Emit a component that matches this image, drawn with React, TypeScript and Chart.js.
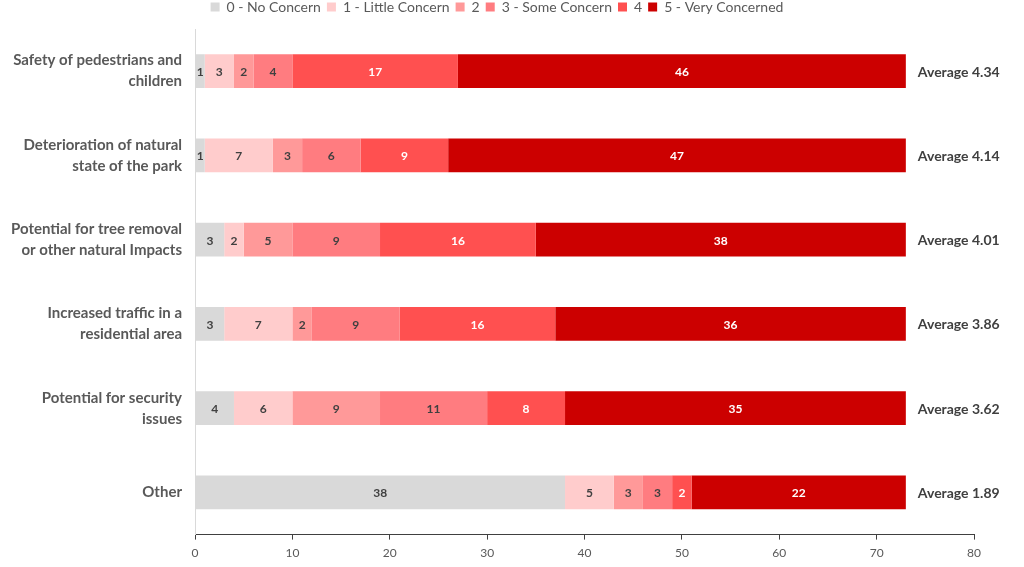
import React, { useEffect, useRef } from "react";
import { Chart, registerables } from "chart.js";

Chart.register(...registerables);

const categories: string[][] = [
  ["Safety of pedestrians and", "children"],
  ["Deterioration of natural", "state of the park"],
  ["Potential for tree removal", "or other natural Impacts"],
  ["Increased traffic in a", "residential area"],
  ["Potential for security", "issues"],
  ["Other"],
];

const seriesNames = [
  "0 - No Concern",
  "1 - Little Concern",
  "2",
  "3 - Some Concern",
  "4",
  "5 - Very Concerned",
];

const noConcern = [1, 1, 3, 3, 4, 38];
const littleConcern = [3, 7, 2, 7, 6, 5];
const two = [2, 3, 5, 2, 9, 3];
const someConcern = [4, 6, 9, 9, 11, 3];
const four = [17, 9, 16, 16, 8, 2];
const veryConcerned = [46, 47, 38, 36, 35, 22];

const averages = ["4.34", "4.14", "4.01", "3.86", "3.62", "1.89"];

const seriesColors = ["#d9d9d9", "#ffcccc", "#ff9999", "#ff7c80", "#ff5050", "#cc0000"];
const labelColors = ["#404040", "#404040", "#404040", "#404040", "#ffffff", "#ffffff"];

const FONT = "Lato, 'Open Sans', sans-serif";

const legendGap = {
  id: "legendGap",
  beforeLayout(chart: any) {
    const lg = chart.legend;
    if (lg && !lg._gapPatched) {
      const f = lg.fit.bind(lg);
      lg.fit = function () {
        f();
        this.height += 5;
      };
      lg._gapPatched = true;
    }
  },
  afterLayout(chart: any) {
    const lg = chart.legend;
    if (lg) {
      lg.left += 10;
      lg.right += 10;
    }
  },
};

const valueLabels = {
  id: "valueLabels",
  afterDatasetsDraw(chart: any) {
    const ctx = chart.ctx;
    ctx.save();
    ctx.textAlign = "center";
    ctx.textBaseline = "middle";
    ctx.font = `bold 12px ${FONT}`;
    chart.data.datasets.forEach((ds: any, di: number) => {
      const meta = chart.getDatasetMeta(di);
      meta.data.forEach((el: any, i: number) => {
        const v = ds.data[i];
        if (!v) return;
        const p = el.getProps(["x", "y", "base"], true);
        ctx.fillStyle = labelColors[di];
        ctx.fillText(String(v), (p.x + p.base) / 2, p.y + 1);
      });
    });
    const last = chart.getDatasetMeta(chart.data.datasets.length - 1);
    ctx.textAlign = "left";
    ctx.font = `bold 14px ${FONT}`;
    ctx.fillStyle = "#404040";
    last.data.forEach((el: any, i: number) => {
      const p = el.getProps(["x", "y"], true);
      ctx.fillText(`Average ${averages[i]}`, p.x + 12, p.y + 1);
    });
    ctx.restore();
  },
};

export default function App() {
  const ref = useRef<HTMLCanvasElement | null>(null);
  useEffect(() => {
    if (!ref.current) return;
    const values = [noConcern, littleConcern, two, someConcern, four, veryConcerned];
    const chart = new Chart(ref.current, {
      type: "bar",
      data: {
        labels: categories,
        datasets: values.map((d, i) => ({
          label: seriesNames[i],
          data: d,
          backgroundColor: seriesColors[i],
          borderWidth: 0,
          barPercentage: 0.8,
          categoryPercentage: 0.5,
        })),
      },
      options: {
        indexAxis: "y",
        animation: false,
        responsive: true,
        maintainAspectRatio: false,
        layout: { padding: { left: 0, right: 50, top: -6, bottom: 1 } },
        plugins: {
          tooltip: { enabled: false },
          legend: {
            position: "top",
            labels: {
              boxWidth: 9,
              boxHeight: 9,
              padding: 6,
              color: "#595959",
              font: { family: FONT, size: 14 },
            },
          },
        },
        scales: {
          x: {
            stacked: true,
            min: 0,
            max: 80,
            ticks: { stepSize: 10, color: "#595959", font: { family: FONT, size: 12 }, padding: 6 },
            grid: { drawOnChartArea: false, drawTicks: true, tickLength: 5, color: "#404040" },
            border: { display: true, color: "#404040", width: 1 },
          },
          y: {
            stacked: true,
            ticks: {
              color: "#595959",
              font: { family: FONT, size: 15, weight: "bold", lineHeight: 1.4 },
              padding: 5,
            },
            grid: { display: false },
            border: { display: true, color: "#d9d9d9" },
            afterFit(scale: any) {
              scale.width = 195;
            },
          },
        },
      },
      plugins: [legendGap, valueLabels],
    });
    return () => chart.destroy();
  }, []);
  return (
    <div style={{ position: "fixed", left: 0, top: 0, width: 1024, height: 567, background: "#fff" }}>
      <canvas ref={ref} />
    </div>
  );
}
